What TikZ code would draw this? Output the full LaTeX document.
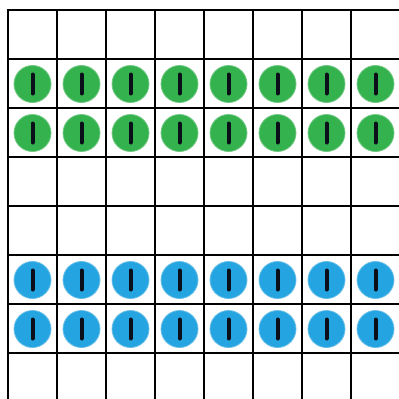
\documentclass[tikz,border=0pt]{standalone}
\definecolor{dotgreen}{RGB}{52,178,78}
\definecolor{dotblue}{RGB}{36,164,224}
\definecolor{barcol}{RGB}{10,15,25}
\tikzset{
  gridline/.style={line width=2.6pt, draw=black},
  gdot/.style={circle, fill=dotgreen, draw=dotgreen!70!white, line width=0.8pt, minimum size=37pt, inner sep=0pt},
  bdot/.style={circle, fill=dotblue, draw=dotblue!70!white, line width=0.8pt, minimum size=37pt, inner sep=0pt},
  dotbar/.style={line width=4pt, draw=barcol, line cap=round}
}
\begin{document}
\begin{tikzpicture}[x=1pt,y=-1pt]
\useasboundingbox (0,0) rectangle (399,399);
\fill[white] (0,0) rectangle (399,399);
% grid
\foreach \i in {0,...,8} {
  \draw[gridline] ({8+49*\i},10) -- ({8+49*\i},402);
}
\foreach \j in {0,...,8} {
  \draw[gridline] (6.7,{10+49*\j}) -- (402,{10+49*\j});
}
% green rows 1 and 2 (0-based), blue rows 5 and 6
\foreach \r/\s in {1/gdot,2/gdot,5/bdot,6/bdot} {
  \foreach \c in {0,...,7} {
    \node[\s] (d\r\c) at ({32.5+49*\c},{35+49*\r}) {};
    \draw[dotbar] ([yshift=-9.5pt]d\r\c.center) -- ([yshift=9.5pt]d\r\c.center);
  }
}
\end{tikzpicture}
\end{document}
